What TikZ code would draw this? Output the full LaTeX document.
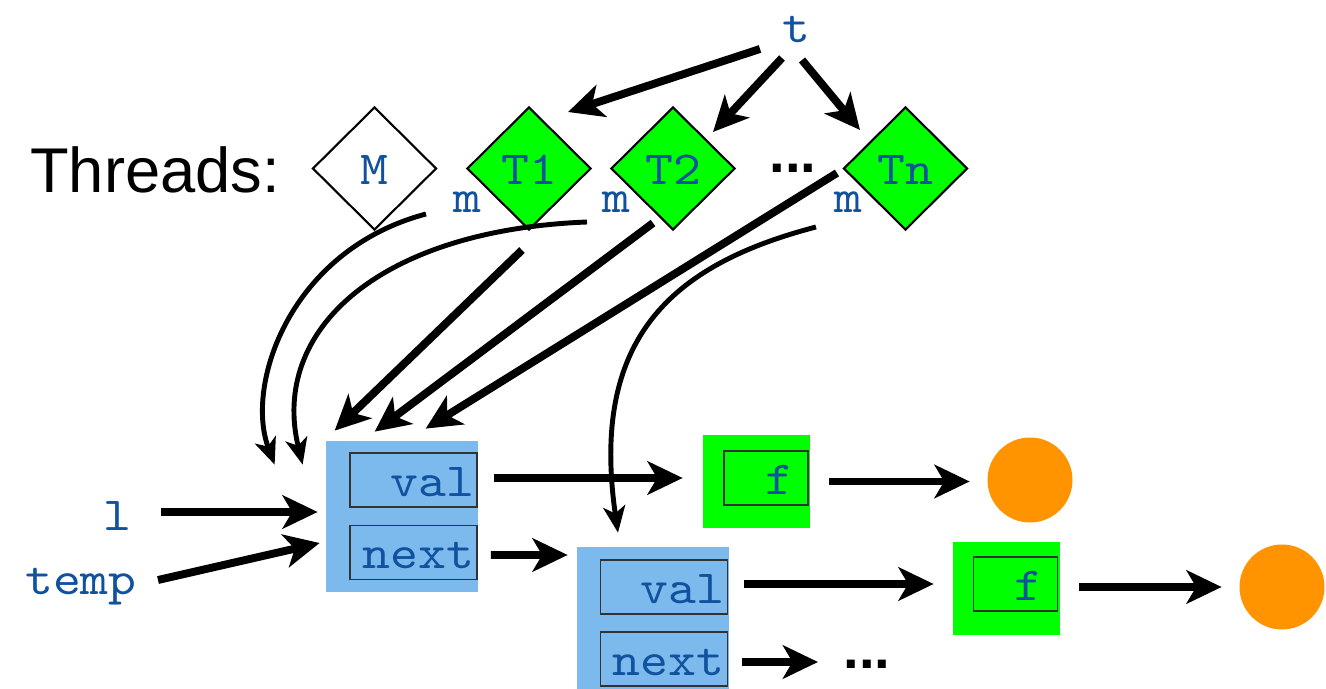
\documentclass[tikz,border=0pt]{standalone}
\usepackage{fontspec}
\setmainfont{Liberation Sans}
\newfontfamily\codefont{lmmono10-regular.otf}[FakeStretch=1.12]
\usetikzlibrary{shapes.geometric,arrows.meta,calc}
\newlength\pxu
\setlength\pxu{0.02cm}
\definecolor{codeblue}{RGB}{16,82,158}
\definecolor{cellblue}{RGB}{124,185,236}
\definecolor{objgreen}{RGB}{0,255,0}
\definecolor{dotorange}{RGB}{255,148,0}
\begin{document}
\begin{tikzpicture}[x=0.02cm, y=-0.02cm,
  code/.style={font=\codefont\fontsize{27}{30}\selectfont, text=codeblue, inner sep=0pt},
  thread/.style={diamond, aspect=1, draw=black, line width=1.2pt, code,
    minimum width=124\pxu, minimum height=123\pxu, text height=18.5pt, text depth=0pt},
  cell/.style={rectangle, fill=cellblue, inner sep=0pt},
  field/.style={rectangle, draw=black!80, line width=0.9pt, code, text height=18.5pt, text depth=0pt,
    minimum height=54\pxu, inner xsep=3\pxu, inner ysep=0pt, text width=121\pxu, align=right},
  obj/.style={rectangle, fill=objgreen, inner sep=0pt},
  ball/.style={circle, fill=dotorange, minimum size=85\pxu, inner sep=0pt},
  ellip/.style={font=\bfseries\fontsize{32}{34}\selectfont, inner sep=0pt, anchor=base},
  ptr/.style={line width=4.5pt, -{Stealth[length=20pt, width=19pt, inset=5.5pt]}},
  cptr/.style={line width=2.8pt, -{Stealth[length=15pt, width=12.5pt, inset=4pt]}}
]
\useasboundingbox (0,0) rectangle (1326,689);

% threads
\node[anchor=base west, font=\fontsize{36}{40}\selectfont, inner sep=0pt] (lbl) at (30,193) {Threads:};
\node[code, anchor=base] (t) at (796,43) {t};
\node[thread, fill=white] (M) at (374.5,168.5) {M};
\node[thread, fill=objgreen] (T1) at (529,168.5) {T1};
\node[thread, fill=objgreen] (T2) at (673,168.5) {T2};
\node[thread, fill=objgreen] (Tn) at (905.5,168.5) {Tn};
\node[ellip] (gap) at (793,173) {...};
\node[code, anchor=base] (m1) at (467,213) {m};
\node[code, anchor=base] (m2) at (616,213) {m};
\node[code, anchor=base] (m3) at (848,213) {m};

% list cells
\node[cell, minimum width=152\pxu, minimum height=151\pxu] (b1) at (402,516.5) {};
\node[field] (val1) at (413.5,480) {val};
\node[field] (next1) at (413.5,552.5) {next};
\node[cell, minimum width=152\pxu, minimum height=142\pxu] (b2) at (653,618) {};
\node[field] (val2) at (664,587) {val};
\node[field] (next2) at (664,659) {next};

% payload objects
\node[obj, minimum width=107\pxu, minimum height=93\pxu] (g1) at (756.5,481.5) {};
\node[field, text width=54\pxu, inner xsep=15\pxu] (f1) at (766,478) {f};
\node[obj, minimum width=107\pxu, minimum height=93\pxu] (g2) at (1006,588.5) {};
\node[field, text width=54\pxu, inner xsep=15\pxu] (f2) at (1015.5,584) {f};
\node[ball] (o1) at (1030,480) {};
\node[ball] (o2) at (1282,587) {};
\node[ellip] (more) at (867,668) {...};

% variables
\node[code, anchor=base] (l) at (117,530) {l};
\node[code, anchor=base] (temp) at (81,594) {temp};

% t points to the threads
\draw[ptr] ($(t.base)+(-36,6)$) -- ($(T1)+(39,-56.5)$);
\draw[ptr] ($(t.base)+(-14,15)$) -- ($(T2)+(40,-36.5)$);
\draw[ptr] ($(t.base)+(6,17)$) -- ($(Tn)+(-45.5,-38.5)$);

% m fields
\draw[cptr] ($(m1.base)+(-41,1)$) .. controls +(-136,36) and +(-30,-80) .. ($(b1.north west)+(-51,24)$);
\draw[cptr] ($(m2.base)+(-29,9)$) .. controls +(-207,8) and +(-33,-135) .. ($(b1.north west)+(-23,24)$);
\draw[cptr] ($(m3.base)+(-32,14)$) .. controls +(-146,38) and +(-28,-193) .. ($(b2.north)+(-35,-14)$);

% threads point to the head cell
\draw[ptr] ($(T1.south)+(-7,19)$) -- ($(b1.north west)+(9,-10)$);
\draw[ptr] ($(T2.south)+(-20,-8)$) -- ($(b1.north west)+(49,-9)$);
\draw[ptr] ($(Tn.west)+(-5.5,4.5)$) -- ($(b1.north west)+(100,-12)$);

% variables point to the head cell
\draw[ptr] ($(l.base)+(44,-18)$) -- ($(b1.west)+(-8,-4.5)$);
\draw[ptr] ($(temp.base)+(77,-14)$) -- ($(b1.west)+(-6,26.5)$);

% list links
\draw[ptr] ($(val1.east)+(16,-2)$) -- ($(g1.west)+(-20,-3.5)$);
\draw[ptr] ($(g1.east)+(19,0)$) -- ($(o1.west)+(-17.5,1.5)$);
\draw[ptr] ($(next1.east)+(13,2.5)$) -- ($(b2.west)+(-9,-63)$);
\draw[ptr] ($(val2.east)+(16,-3)$) -- ($(g2.west)+(-18.5,-4.5)$);
\draw[ptr] ($(g2.east)+(19.5,-1.5)$) -- ($(o2.west)+(-17.5,0)$);
\draw[ptr] ($(next2.east)+(14,3)$) -- ($(more.base)+(-49,-6)$);
\end{tikzpicture}
\end{document}
